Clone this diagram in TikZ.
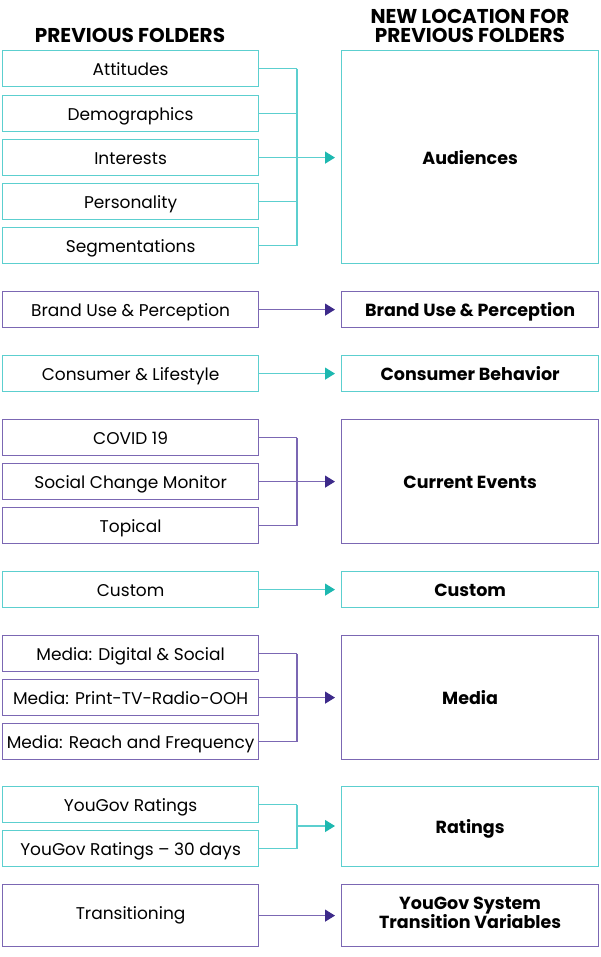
\documentclass[tikz,border=0pt]{standalone}
\usepackage{fontspec}
\setmainfont{Poppins}
\usetikzlibrary{arrows.meta}
\definecolor{tealline}{HTML}{5CCFCF}
\definecolor{tealtip}{HTML}{1DB8B0}
\definecolor{purpline}{HTML}{7B67B3}
\definecolor{purptip}{HTML}{3D2A8A}
\tikzset{
  box/.style={draw, line width=1.2pt, inner sep=0pt, anchor=north west, font=\fontsize{17}{19}\selectfont, text height=17pt, text depth=3pt},
  tbox/.style={box, draw=tealline},
  pbox/.style={box, draw=purpline},
  tcon/.style={draw=tealline, line width=1.2pt},
  pcon/.style={draw=purpline, line width=1.2pt},
  tarr/.style={tcon, -{Triangle[length=10pt,width=12pt,color=tealtip]}, shorten >=6pt},
  parr/.style={pcon, -{Triangle[length=10pt,width=12pt,color=purptip]}, shorten >=6pt},
  head/.style={font=\fontsize{20}{19}\selectfont\bfseries, align=center, inner sep=0pt}
}
\newcommand{\lb}[5]{\node[#1, minimum width=256pt, minimum height=#4pt] (#2) at (2,#3) {#5};}
\newcommand{\rb}[5]{\node[#1, minimum width=257pt, minimum height=#4pt, font=\fontsize{17.5}{21}\selectfont\bfseries, align=center] (#2) at (341,#3) {#5};}
\begin{document}
\begin{tikzpicture}[x=1pt,y=-1pt]
\useasboundingbox (0,0) rectangle (600,957);
% headers
\node[head] (h1) at (130,35) {PREVIOUS FOLDERS};
\node[head] (h2) at (470,26) {NEW LOCATION FOR\\PREVIOUS FOLDERS};
% Audiences group
\lb{tbox}{att}{50}{36}{Attitudes}
\lb{tbox}{dem}{95}{36}{Demographics}
\lb{tbox}{int}{139}{36}{Interests}
\lb{tbox}{per}{183}{36}{Personality}
\lb{tbox}{seg}{227}{36}{Segmentations}
\rb{tbox}{aud}{50}{213}{Audiences}
\coordinate (j1) at (297,157);
\foreach \n in {att,dem,int,per,seg} {\draw[tcon] (\n.east) -- (\n.east -| j1);}
\draw[tcon] (att.east -| j1) -- (seg.east -| j1);
\draw[tarr] (int.east) -- (aud.west |- int.east);
% Brand
\lb{pbox}{bup}{291}{36}{Brand Use \& Perception}
\rb{pbox}{bupr}{291}{36}{Brand Use \& Perception}
\draw[parr] (bup.east) -- (bupr.west);
% Consumer
\lb{tbox}{cl}{355}{36}{Consumer \& Lifestyle}
\rb{tbox}{cb}{355}{36}{Consumer Behavior}
\draw[tarr] (cl.east) -- (cb.west);
% Current events
\lb{pbox}{cov}{419}{36}{COVID 19}
\lb{pbox}{scm}{463}{36}{Social Change Monitor}
\lb{pbox}{top}{507}{36}{Topical}
\rb{pbox}{ce}{419}{124}{Current Events}
\coordinate (j2) at (297,481);
\foreach \n in {cov,scm,top} {\draw[pcon] (\n.east) -- (\n.east -| j2);}
\draw[pcon] (cov.east -| j2) -- (top.east -| j2);
\draw[parr] (scm.east) -- (ce.west |- scm.east);
% Custom
\lb{tbox}{cus}{571}{36}{Custom}
\rb{tbox}{cusr}{571}{36}{Custom}
\draw[tarr] (cus.east) -- (cusr.west);
% Media
\lb{pbox}{mds}{635}{36}{Media: Digital \& Social}
\lb{pbox}{mpt}{679}{36}{Media: Print-TV-Radio-OOH}
\lb{pbox}{mrf}{723}{36}{Media: Reach and Frequency}
\rb{pbox}{med}{635}{124}{Media}
\coordinate (j3) at (297,697);
\foreach \n in {mds,mpt,mrf} {\draw[pcon] (\n.east) -- (\n.east -| j3);}
\draw[pcon] (mds.east -| j3) -- (mrf.east -| j3);
\draw[parr] (mpt.east) -- (med.west |- mpt.east);
% Ratings
\lb{tbox}{ygr}{786}{36}{YouGov Ratings}
\lb{tbox}{yg30}{830}{36}{YouGov Ratings – 30 days}
\rb{tbox}{rat}{786}{80}{Ratings}
\coordinate (j4) at (297,826);
\foreach \n in {ygr,yg30} {\draw[tcon] (\n.east) -- (\n.east -| j4);}
\draw[tcon] (ygr.east -| j4) -- (yg30.east -| j4);
\draw[tarr] (j4) -- (rat.west |- j4);
% Transitioning
\lb{pbox, text height=10pt}{tr}{884}{62}{Transitioning}
\rb{pbox, text height=24pt, text depth=16pt}{ysv}{884}{62}{\begin{tabular}{@{}c@{}}YouGov System\\[-2pt]Transition Variables\end{tabular}}
\draw[parr] (tr.east) -- (ysv.west);
\end{tikzpicture}
\end{document}
